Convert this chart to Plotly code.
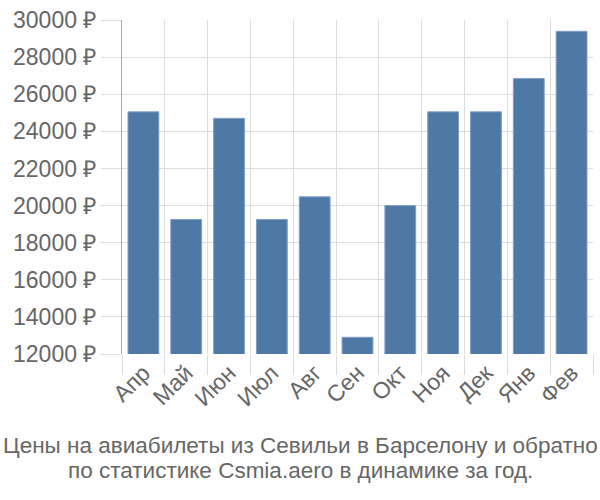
import plotly.graph_objects as go

months = ["Апр", "Май", "Июн", "Июл", "Авг", "Сен", "Окт", "Ноя", "Дек", "Янв", "Фев"]
prices = [25050, 19250, 24700, 19250, 20470, 12900, 20000, 25050, 25050, 26850, 29390]
y_ticks = [12000, 14000, 16000, 18000, 20000, 22000, 24000, 26000, 28000, 30000]
title_lines = ["Цены на авиабилеты из Севильи в Барселону и обратно",
               "по статистике Csmia.aero в динамике за год."]

font_family = "Liberation Sans, Arial, sans-serif"
text_color = "#666666"
grid_color = "#dddddd"

fig = go.Figure(go.Bar(
    x=months, y=prices,
    marker=dict(color="#4e79a7", line=dict(color="#7f9fc4", width=1)),
))

fig.update_layout(
    width=600, height=500,
    margin=dict(l=122, r=7, t=14, b=146),
    paper_bgcolor="white", plot_bgcolor="white",
    bargap=0.28,
    showlegend=False,
    font=dict(family=font_family, color=text_color, size=23),
)

fig.update_xaxes(
    type="category",
    tickson="boundaries",
    showgrid=True, gridcolor=grid_color, gridwidth=1,
    ticks="outside", ticklen=20, tickcolor=grid_color,
    tickangle=-45,
    tickfont=dict(size=23, color=text_color, family=font_family),
    showline=False, mirror=False,
)

fig.update_yaxes(
    range=[12000, 30000],
    tickvals=y_ticks,
    ticktext=[f"{v} ₽" for v in y_ticks],
    showgrid=True, gridcolor=grid_color, gridwidth=1,
    ticks="outside", ticklen=20, tickcolor=grid_color,
    tickfont=dict(size=23, color=text_color, family=font_family),
    showline=True, linecolor="#aaaaaa", linewidth=1,
    zeroline=False,
)

title_y = [-0.2735, -0.35]
for line, yy in zip(title_lines, title_y):
    fig.add_annotation(
        text=line,
        xref="paper", yref="paper",
        x=(300 - 122) / (600 - 122 - 7), y=yy,
        xanchor="center", yanchor="middle",
        showarrow=False,
        font=dict(size=22.5, color=text_color, family=font_family),
    )

fig.write_html("out.html")
